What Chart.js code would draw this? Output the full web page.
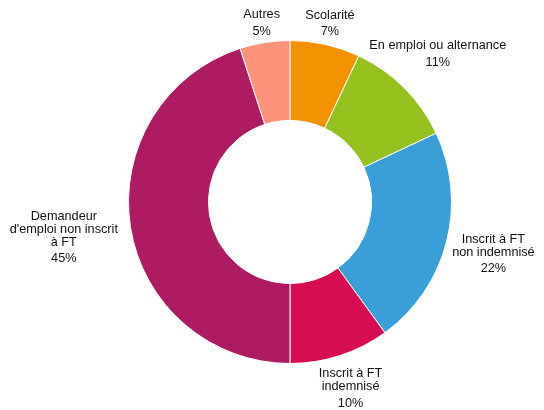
<!DOCTYPE html>
<html>
<head>
<meta charset="utf-8">
<script src="https://cdn.jsdelivr.net/npm/chart.js@4"></script>
<style>
html,body{margin:0;padding:0;background:#fff;}
#wrap{width:544px;height:410px;position:relative;}
</style>
</head>
<body>
<div id="wrap"><canvas id="c"></canvas></div>
<script>
const categories = [
  ["Scolarité"],
  ["En emploi ou alternance"],
  ["Inscrit à FT", "non indemnisé"],
  ["Inscrit à FT", "indemnisé"],
  ["Demandeur", "d'emploi non inscrit", "à FT"],
  ["Autres"]
];
const values = [7, 11, 22, 10, 45, 5];
const percentLabels = ["7%", "11%", "22%", "10%", "45%", "5%"];
const colors = ["#F39200", "#95C11F", "#3A9FD9", "#D70D53", "#AF1B62", "#FF937A"];

const labelDist = [183, 209, 210, 196, 229, 181];

const outsideLabels = {
  id: 'outsideLabels',
  afterDatasetsDraw(chart) {
    const ctx = chart.ctx;
    const meta = chart.getDatasetMeta(0);
    ctx.save();
    ctx.font = '12.7px "Liberation Sans", Arial, sans-serif';
    ctx.fillStyle = '#111111';
    ctx.textAlign = 'center';
    ctx.textBaseline = 'middle';
    meta.data.forEach((arc, i) => {
      const mid = (arc.startAngle + arc.endAngle) / 2;
      const d = labelDist[i];
      const cx = arc.x + Math.cos(mid) * d;
      const cy = arc.y + Math.sin(mid) * d;
      const lines = categories[i];
      const n = lines.length;
      const lh = 12.8, pg = 16.5;
      const total = (n - 1) * lh + pg;
      let y = cy - total / 2;
      lines.forEach((t, k) => {
        ctx.fillText(t, cx, y + k * lh);
      });
      ctx.fillText(percentLabels[i], cx, y + (n - 1) * lh + pg);
    });
    ctx.restore();
  }
};

new Chart(document.getElementById('c'), {
  type: 'doughnut',
  data: {
    labels: categories,
    datasets: [{
      data: values,
      backgroundColor: colors,
      borderColor: '#ffffff',
      borderWidth: 1
    }]
  },
  options: {
    responsive: true,
    maintainAspectRatio: false,
    animation: false,
    cutout: '50.5%',
    layout: { padding: { top: 40, bottom: 46, left: 128, right: 92 } },
    plugins: { legend: { display: false }, tooltip: { enabled: false } }
  },
  plugins: [outsideLabels]
});
</script>
</body>
</html>
